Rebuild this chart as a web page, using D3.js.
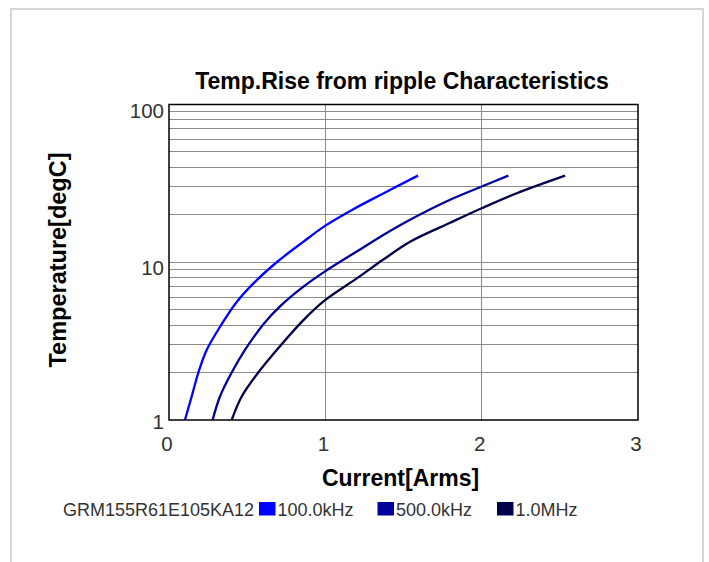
<!DOCTYPE html>
<html lang="en">
<head>
  <meta charset="UTF-8">
  <style>
    body { margin: 0; background: #fff; }
    svg { font-family: "Liberation Sans", Arial, sans-serif; }
    .grid line { stroke: #8c8c8c; stroke-width: 1; shape-rendering: crispEdges; }
    .tick text { fill: #333; font-size: 20.5px; }
  </style>
</head>
<body>
  <svg class="chart"></svg>
  <script src="https://cdnjs.cloudflare.com/ajax/libs/d3/7.8.5/d3.min.js"></script>
  <script>
    // series
    const seriesNames = ['100.0kHz', '500.0kHz', '1.0MHz']
    const current100k = [0.102, 0.145, 0.188, 0.241, 0.337, 0.433, 0.540, 0.689, 0.860, 0.998, 1.179, 1.371, 1.542, 1.593]
    const temp100k    = [1.0, 1.41, 2.0, 2.78, 4.05, 5.6, 7.35, 10.0, 13.5, 17.0, 21.7, 27.3, 33.4, 35.4]
    const current500k = [0.279, 0.326, 0.401, 0.486, 0.604, 0.710, 0.860, 0.998, 1.201, 1.371, 1.542, 1.798, 2.0, 2.171]
    const temp500k    = [1.0, 1.41, 2.0, 2.78, 4.05, 5.25, 7.0, 8.75, 11.7, 14.9, 18.6, 24.9, 30.2, 35.4]
    const current1M   = [0.401, 0.465, 0.571, 0.689, 0.860, 0.998, 1.201, 1.371, 1.542, 1.798, 2.0, 2.225, 2.534]
    const temp1M      = [1.0, 1.41, 2.0, 2.78, 4.3, 5.75, 7.9, 10.4, 13.5, 17.8, 22.0, 27.4, 35.4]
    const colors = ['#0000ff', '#00009c', '#00004a']
    const xTicks = [0, 1, 2, 3]
    const yTicks = [1, 10, 100]
    const partNo = 'GRM155R61E105KA12'

    const series = [
      { name: seriesNames[0], xs: current100k, ys: temp100k },
      { name: seriesNames[1], xs: current500k, ys: temp500k },
      { name: seriesNames[2], xs: current1M, ys: temp1M }
    ]

    const chart = { width: 709, height: 562 }
    const plot = { left: 169, right: 638, top: 104.5, bottom: 420 }

    const x = d3.scaleLinear().domain([0, 3]).range([plot.left, plot.right])
    const y = d3.scaleLog().domain([1, 100]).range([plot.bottom, plot.top])

    const svg = d3.select('.chart')
      .attr('width', chart.width)
      .attr('height', chart.height)

    // outer frame
    svg.append('rect')
      .attr('x', 11).attr('y', 9)
      .attr('width', 692).attr('height', 620)
      .attr('fill', 'none')
      .attr('stroke', '#d3d6da')
      .attr('stroke-width', 2)

    // grid
    const minor = []
    for (let d = 1; d < 100; d *= 10) {
      for (let k = 2; k <= 9; k++) minor.push(d * k)
    }
    const grid = svg.append('g').attr('class', 'grid')
    grid.selectAll('.hy').data(minor.concat([10])).enter().append('line')
      .attr('x1', plot.left).attr('x2', plot.right)
      .attr('y1', d => y(d)).attr('y2', d => y(d))
    grid.selectAll('.vx').data([1, 2]).enter().append('line')
      .attr('x1', d => x(d)).attr('x2', d => x(d))
      .attr('y1', plot.top).attr('y2', plot.bottom)

    // axes (labels only, frame is drawn separately)
    const xAxis = svg.append('g')
      .attr('transform', `translate(0,${plot.bottom})`)
      .call(d3.axisBottom(x).tickValues(xTicks).tickFormat(d3.format('d')).tickSize(0))
    xAxis.select('.domain').remove()
    xAxis.selectAll('text').attr('y', 30.5).attr('dy', 0).attr('dx', -2.5)

    const yAxis = svg.append('g')
      .attr('transform', `translate(${plot.left},0)`)
      .call(d3.axisLeft(y).tickValues(yTicks).tickFormat(d3.format('d')).tickSize(0))
    yAxis.select('.domain').remove()
    yAxis.selectAll('text')
      .attr('x', -5).attr('dy', 0)
      .attr('y', d => d === 1 ? 8 : 12.5)

    // curves
    const line = d3.line()
      .x(d => x(d[0]))
      .y(d => y(d[1]))
      .curve(d3.curveCatmullRom.alpha(0.5))

    svg.append('defs').append('clipPath').attr('id', 'clip')
      .append('rect')
      .attr('x', plot.left).attr('y', plot.top)
      .attr('width', plot.right - plot.left).attr('height', plot.bottom - plot.top)

    svg.append('g').attr('clip-path', 'url(#clip)')
      .selectAll('path').data(series).enter().append('path')
      .attr('d', s => line(s.xs.map((v, i) => [v, s.ys[i]])))
      .attr('fill', 'none')
      .attr('stroke', (s, i) => colors[i])
      .attr('stroke-width', 2.3)
      .attr('stroke-linejoin', 'round')

    // plot frame
    svg.append('rect')
      .attr('x', plot.left).attr('y', plot.top)
      .attr('width', plot.right - plot.left).attr('height', plot.bottom - plot.top)
      .attr('fill', 'none')
      .attr('stroke', '#000')
      .attr('stroke-width', 1.5)

    // titles
    svg.append('text')
      .attr('x', 402).attr('y', 88.5)
      .attr('text-anchor', 'middle')
      .attr('font-size', 23).attr('font-weight', 'bold')
      .text('Temp.Rise from ripple Characteristics')

    svg.append('text')
      .attr('x', 400.5).attr('y', 486)
      .attr('text-anchor', 'middle')
      .attr('font-size', 23).attr('font-weight', 'bold')
      .text('Current[Arms]')

    svg.append('text')
      .attr('transform', 'translate(66,260) rotate(-90)')
      .attr('text-anchor', 'middle')
      .attr('font-size', 23.5).attr('font-weight', 'bold')
      .text('Temperature[degC]')

    // legend
    const legend = svg.append('g').attr('font-size', 18).attr('fill', '#333')
    legend.append('text').attr('x', 63).attr('y', 516).text(partNo)
    const legendX = [259, 377.5, 497]
    const item = legend.selectAll('.item').data(series).enter().append('g')
      .attr('transform', (s, i) => `translate(${legendX[i]},0)`)
    item.append('rect')
      .attr('x', 0).attr('y', 502)
      .attr('width', 16.5).attr('height', 13.5)
      .attr('fill', (s, i) => colors[i])
    item.append('text')
      .attr('x', 18.5).attr('y', 516)
      .text(s => s.name)
  </script>
</body>
</html>
